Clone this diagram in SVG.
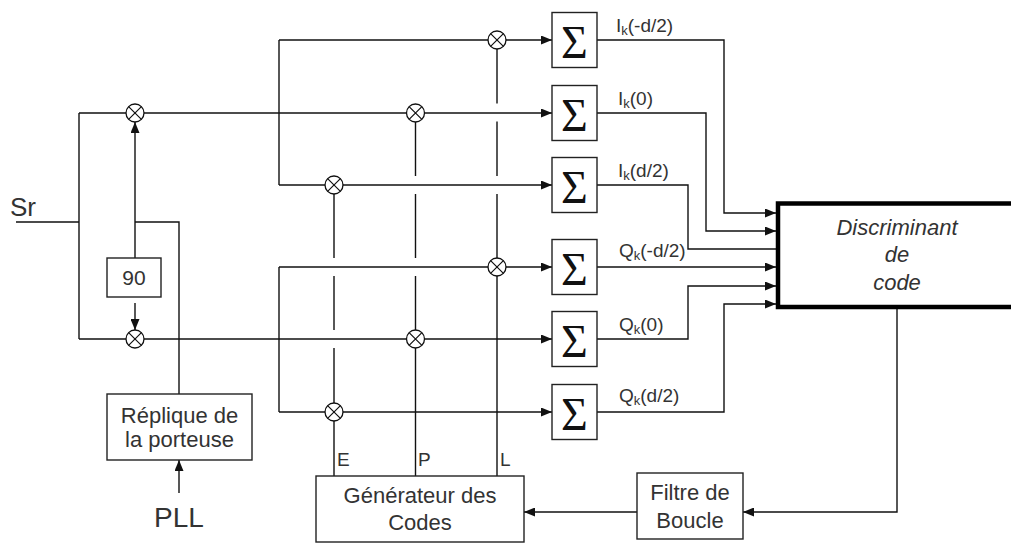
<svg xmlns="http://www.w3.org/2000/svg" width="1011" height="543" viewBox="0 0 1011 543">
<defs>
<marker id="arr" markerUnits="userSpaceOnUse" markerWidth="11" markerHeight="9" refX="11" refY="4.5" orient="auto">
<path d="M0,0 L11,4.5 L0,9 z" fill="#111"/>
</marker>
<g id="mult">
<circle r="9" fill="#fff" stroke="#111" stroke-width="1.3"/>
<path d="M-6.4,-6.4 L6.4,6.4 M-6.4,6.4 L6.4,-6.4" stroke="#111" stroke-width="1.2"/>
</g>
</defs>
<style>
.ln{fill:none;stroke:#111;stroke-width:1.4}
.ar{marker-end:url(#arr)}
.box{fill:#fff;stroke:#222;stroke-width:1.4}
.t{font-family:"Liberation Sans",Arial,sans-serif;fill:#333}
.c{text-anchor:middle}
.sig{font-family:"Liberation Serif","Times New Roman",serif;font-size:46px;fill:#111;text-anchor:middle}
.lab{font-family:"Liberation Sans",Arial,sans-serif;font-size:19px;fill:#333}
.sub{font-size:13px}
</style>
<rect width="1011" height="543" fill="#fff"/>

<g id="connectors">
<path class="ln" d="M16,222 H79 M79,113 V339 M79,113 H126 M79,339 H126"/>
<path class="ln ar" d="M135,258 V122"/>
<path class="ln ar" d="M135,303 V330"/>
<path class="ln" d="M135,222 H179 V394"/>
<path class="ln ar" d="M179,493 V460"/>
<path class="ln" d="M279,40 V185 M279,267 V412"/>
<path class="ln ar" d="M279,40 H552"/>
<path class="ln ar" d="M144,113 H552"/>
<path class="ln ar" d="M279,185 H552"/>
<path class="ln ar" d="M279,267 H552"/>
<path class="ln ar" d="M144,339 H552"/>
<path class="ln ar" d="M279,412 H552"/>
<path class="ln" d="M334,476 V348 M334,330 V276 M334,258 V194"/>
<path class="ln" d="M415.5,476 V339 M415.5,330 V276 M415.5,258 V194 M415.5,176 V122"/>
<path class="ln" d="M497,476 V258 M497,258 V194 M497,176 V121.5 M497,103.5 V49"/>
<path class="ln ar" d="M597,40 H724 V213 H776"/>
<path class="ln ar" d="M597,113 H706 V231 H776"/>
<path class="ln" d="M597,185 H688 V249 H776"/>
<path class="ln ar" d="M597,267 H776"/>
<path class="ln ar" d="M597,339 H688 V286 H776"/>
<path class="ln ar" d="M597,412 H724 V304 H776"/>
<path class="ln ar" d="M897,308 V512 H743"/>
<path class="ln ar" d="M637,512 H524"/>
</g>

<g id="mult-i-left"><use href="#mult" x="135" y="113"/></g>
<g id="mult-q-left"><use href="#mult" x="135" y="339"/></g>
<g id="mult-1"><use href="#mult" x="497" y="40"/></g>
<g id="mult-2"><use href="#mult" x="415.5" y="113"/></g>
<g id="mult-3"><use href="#mult" x="334" y="185"/></g>
<g id="mult-4"><use href="#mult" x="497" y="267"/></g>
<g id="mult-5"><use href="#mult" x="415.5" y="339"/></g>
<g id="mult-6"><use href="#mult" x="334" y="412"/></g>

<g id="sr"><text class="t" x="10" y="216" font-size="26">Sr</text></g>

<g id="phase90">
<rect class="box" x="107" y="258" width="54" height="39"/>
<text class="t c" x="134" y="285" font-size="21">90</text>
</g>

<g id="replique">
<rect class="box" x="107" y="394" width="145" height="66"/>
<text class="t c" x="179.5" y="423" font-size="22">Réplique de</text>
<text class="t c" x="179.5" y="447" font-size="22">la porteuse</text>
</g>

<g id="pll"><text class="t c" x="179" y="527" font-size="28">PLL</text></g>

<g id="sum1"><rect class="box" x="552" y="12.5" width="45" height="55"/><text class="sig" x="574.5" y="58">Σ</text></g>
<g id="sum2"><rect class="box" x="552" y="85.5" width="45" height="55"/><text class="sig" x="574.5" y="131">Σ</text></g>
<g id="sum3"><rect class="box" x="552" y="157.5" width="45" height="55"/><text class="sig" x="574.5" y="203">Σ</text></g>
<g id="sum4"><rect class="box" x="552" y="239.5" width="45" height="55"/><text class="sig" x="574.5" y="285">Σ</text></g>
<g id="sum5"><rect class="box" x="552" y="311.5" width="45" height="55"/><text class="sig" x="574.5" y="357">Σ</text></g>
<g id="sum6"><rect class="box" x="552" y="384.5" width="45" height="55"/><text class="sig" x="574.5" y="430">Σ</text></g>

<g id="labels">
<text class="lab" x="616" y="32">I<tspan class="sub" dy="3">k</tspan><tspan dy="-3">(-d/2)</tspan></text>
<text class="lab" x="618" y="105">I<tspan class="sub" dy="3">k</tspan><tspan dy="-3">(0)</tspan></text>
<text class="lab" x="618" y="177">I<tspan class="sub" dy="3">k</tspan><tspan dy="-3">(d/2)</tspan></text>
<text class="lab" x="619" y="257">Q<tspan class="sub" dy="3">k</tspan><tspan dy="-3">(-d/2)</tspan></text>
<text class="lab" x="619" y="331">Q<tspan class="sub" dy="3">k</tspan><tspan dy="-3">(0)</tspan></text>
<text class="lab" x="619" y="402">Q<tspan class="sub" dy="3">k</tspan><tspan dy="-3">(d/2)</tspan></text>
<text class="lab" x="337" y="466">E</text>
<text class="lab" x="418" y="466">P</text>
<text class="lab" x="500" y="466">L</text>
</g>

<g id="discriminant">
<rect x="778" y="203.5" width="260" height="103.5" fill="#fff" stroke="#000" stroke-width="4.5"/>
<text class="t c" x="897" y="235" font-size="22" font-style="italic">Discriminant</text>
<text class="t c" x="897" y="262" font-size="22" font-style="italic">de</text>
<text class="t c" x="897" y="290" font-size="22" font-style="italic">code</text>
</g>

<g id="generateur">
<rect class="box" x="316" y="476" width="208" height="66"/>
<text class="t c" x="420" y="503" font-size="22">Générateur des</text>
<text class="t c" x="420" y="530" font-size="22">Codes</text>
</g>

<g id="filtre">
<rect class="box" x="637" y="473" width="106" height="66"/>
<text class="t c" x="690" y="500" font-size="22">Filtre de</text>
<text class="t c" x="690" y="528" font-size="22">Boucle</text>
</g>
</svg>
